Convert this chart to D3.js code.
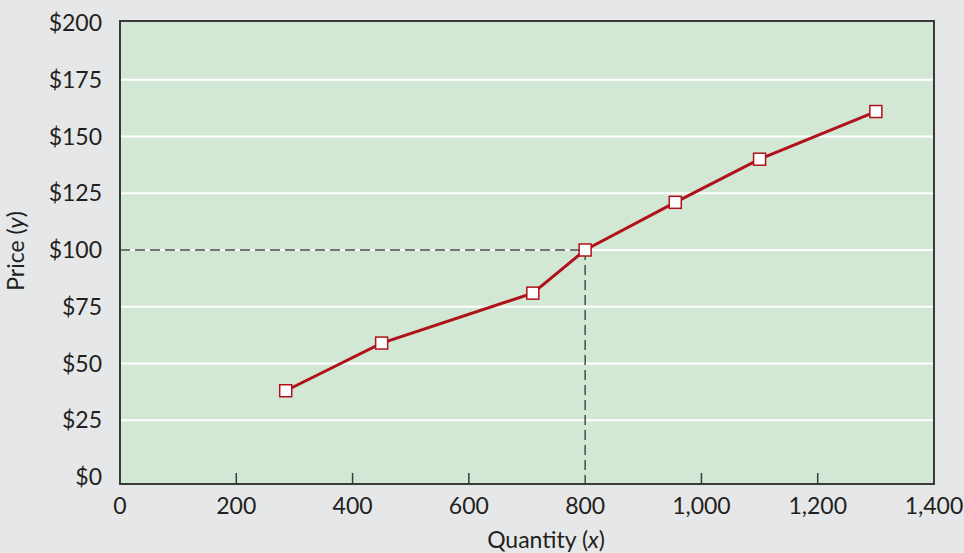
<!DOCTYPE html>
<html>
<head>
<meta charset="utf-8">
<script src="https://cdn.jsdelivr.net/npm/d3@7"></script>
<style>
  html, body { margin: 0; padding: 0; background: #e6e7e8; }
  svg { display: block; }
  text { font-family: Lato, "Open Sans", sans-serif; fill: #231f20; }
</style>
</head>
<body>
<svg id="chart" width="964" height="553"></svg>
<script>
// Data
const quantities = [285, 450, 710, 800, 955, 1100, 1300];
const prices = [38, 59, 81, 100, 121, 140, 161];
const xTicks = [0, 200, 400, 600, 800, 1000, 1200, 1400];
const yTicks = [0, 25, 50, 75, 100, 125, 150, 175, 200];
const highlightQuantity = 800;
const highlightPrice = 100;

(function () {
const pLeft = 120, pRight = 934, pTop = 21, frameBottom = 484, yZero = 477;

const svg = d3.select("#chart");

const x = d3.scaleLinear().domain([0, 1400]).range([pLeft, pRight]);
const y = d3.scaleLinear().domain([0, 200]).range([yZero, 23]);

// plot background
svg.append("rect")
  .attr("x", pLeft).attr("y", pTop)
  .attr("width", pRight - pLeft).attr("height", frameBottom - pTop)
  .attr("fill", "#d2e8d4");

// gridlines
svg.append("g").selectAll("line")
  .data(yTicks.filter(d => d > 0 && d < 200))
  .join("line")
  .attr("x1", pLeft).attr("x2", pRight)
  .attr("y1", d => y(d)).attr("y2", d => y(d))
  .attr("stroke", "#ffffff").attr("stroke-width", 2);

// x ticks (inside, from bottom frame)
svg.append("g").selectAll("line")
  .data(xTicks.filter(d => d > 0 && d < 1400 && d !== highlightQuantity))
  .join("line")
  .attr("x1", d => x(d)).attr("x2", d => x(d))
  .attr("y1", frameBottom).attr("y2", frameBottom - 11)
  .attr("stroke", "#3a3a3a").attr("stroke-width", 1.5);

// dashed reference lines
svg.append("line")
  .attr("x1", pLeft).attr("x2", x(highlightQuantity))
  .attr("y1", y(highlightPrice)).attr("y2", y(highlightPrice))
  .attr("stroke", "#4a4a4a").attr("stroke-width", 1.5)
  .attr("stroke-dasharray", "10,5");
svg.append("line")
  .attr("x1", x(highlightQuantity)).attr("x2", x(highlightQuantity))
  .attr("y1", y(highlightPrice)).attr("y2", frameBottom)
  .attr("stroke", "#4a4a4a").attr("stroke-width", 1.5)
  .attr("stroke-dasharray", "10,5");

// frame
svg.append("rect")
  .attr("x", pLeft).attr("y", pTop)
  .attr("width", pRight - pLeft).attr("height", frameBottom - pTop)
  .attr("fill", "none").attr("stroke", "#3a3a3a").attr("stroke-width", 2);

// line
const pts = quantities.map((q, i) => [q, prices[i]]);
svg.append("path")
  .datum(pts)
  .attr("d", d3.line().x(d => x(d[0])).y(d => y(d[1])))
  .attr("fill", "none").attr("stroke", "#b0121b").attr("stroke-width", 3);

// markers
svg.append("g").selectAll("rect")
  .data(pts)
  .join("rect")
  .attr("x", d => x(d[0]) - 6).attr("y", d => y(d[1]) - 6)
  .attr("width", 12).attr("height", 12)
  .attr("fill", "#ffffff").attr("stroke", "#b0121b").attr("stroke-width", 1.5);

// y tick labels
svg.append("g").selectAll("text")
  .data(yTicks)
  .join("text")
  .attr("x", 102).attr("y", d => y(d))
  .attr("dy", "0.35em")
  .attr("text-anchor", "end")
  .attr("font-size", 23)
  .text(d => "$" + d);

// x tick labels
const fmt = d3.format(",");
svg.append("g").selectAll("text")
  .data(xTicks)
  .join("text")
  .attr("x", d => x(d)).attr("y", 514)
  .attr("text-anchor", "middle")
  .attr("font-size", 23)
  .text(d => fmt(d));

// axis titles
const xt = svg.append("text")
  .attr("x", 546).attr("y", 548)
  .attr("text-anchor", "middle")
  .attr("font-size", 23);
xt.append("tspan").text("Quantity (");
xt.append("tspan").attr("font-style", "italic").text("x");
xt.append("tspan").text(")");

const yt = svg.append("text")
  .attr("transform", "translate(24,251) rotate(-90)")
  .attr("text-anchor", "middle")
  .attr("font-size", 23);
yt.append("tspan").text("Price (");
yt.append("tspan").attr("font-style", "italic").text("y");
yt.append("tspan").text(")");
})();
</script>
</body>
</html>
